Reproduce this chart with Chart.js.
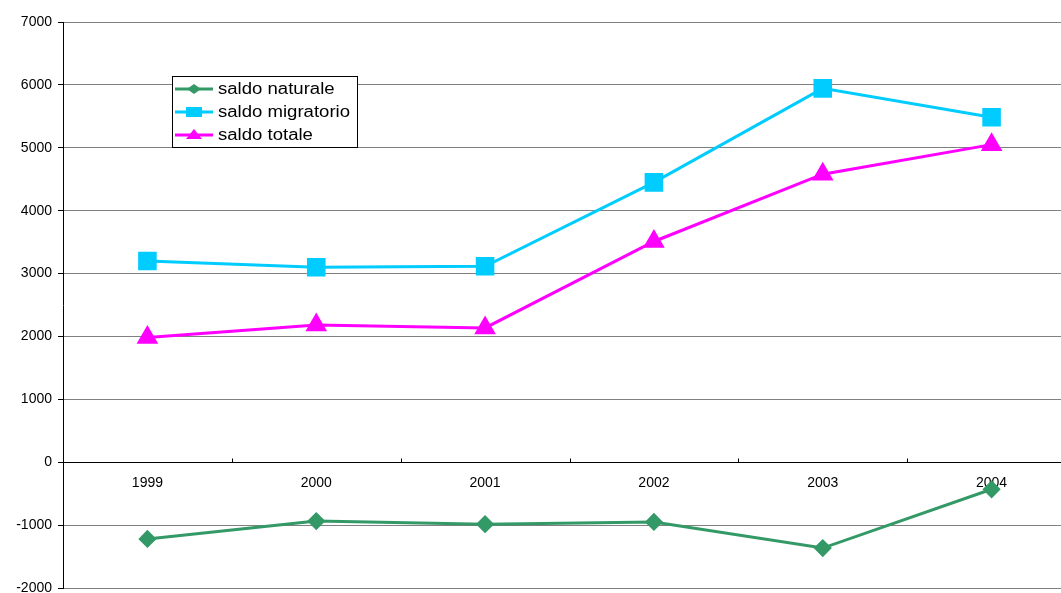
<!DOCTYPE html>
<html>
<head>
<meta charset="utf-8">
<script src="https://cdn.jsdelivr.net/npm/chart.js@4.4.1/dist/chart.umd.min.js"></script>
<style>
  html, body { margin: 0; padding: 0; background: #fff; overflow: hidden; }
</style>
</head>
<body>
<canvas id="grafico" width="1076" height="610"></canvas>
<script>
// dati
const anni = ['1999', '2000', '2001', '2002', '2003', '2004'];
const saldoNaturale = [-1220, -935, -985, -950, -1365, -430];
const saldoMigratorio = [3200, 3100, 3115, 4450, 5945, 5485];
const saldoTotale = [1985, 2180, 2135, 3510, 4580, 5050];
const tickY = [-2000, -1000, 0, 1000, 2000, 3000, 4000, 5000, 6000, 7000];

const font = 'Arial, "Liberation Sans", sans-serif';

// legenda disegnata dentro l'area del grafico, con bordo
const legendaInterna = {
    id: 'legendaInterna',
    afterDatasetsDraw(chart) {
        const ctx = chart.ctx;
        const x0 = 172, y0 = 76, w = 185, h = 71;
        ctx.save();
        ctx.fillStyle = '#fff';
        ctx.fillRect(x0, y0, w, h);
        ctx.strokeStyle = '#000';
        ctx.lineWidth = 1;
        ctx.strokeRect(x0 + 0.5, y0 + 0.5, w, h);
        chart.data.datasets.forEach((ds, i) => {
            const y = y0 + 13 + i * 23;
            ctx.strokeStyle = ds.borderColor;
            ctx.lineWidth = 3;
            ctx.beginPath();
            ctx.moveTo(x0 + 3, y);
            ctx.lineTo(x0 + 41, y);
            ctx.stroke();
            ctx.fillStyle = ds.borderColor;
            ctx.beginPath();
            const cx = x0 + 22;
            if (ds.pointStyle === 'rectRot') {
                ctx.moveTo(cx - 7, y); ctx.lineTo(cx, y - 5); ctx.lineTo(cx + 7, y); ctx.lineTo(cx, y + 5);
            } else if (ds.pointStyle === 'rect') {
                ctx.rect(cx - 8, y - 5, 16, 10);
            } else {
                ctx.moveTo(cx, y - 6); ctx.lineTo(cx + 8, y + 4); ctx.lineTo(cx - 8, y + 4);
            }
            ctx.closePath();
            ctx.fill();
            ctx.fillStyle = '#000';
            ctx.font = '16px ' + font;
            ctx.textBaseline = 'middle';
            ctx.save();
            ctx.translate(x0 + 46, y);
            ctx.scale(1.16, 1);
            ctx.fillText(ds.label, 0, 1);
            ctx.restore();
        });
        ctx.restore();
    }
};

// tacche dell'asse x verso l'alto, tra le categorie
const taccheX = {
    id: 'taccheX',
    afterDraw(chart) {
        const ctx = chart.ctx;
        const x = chart.scales.x, yScale = chart.scales.y;
        const y0 = Math.round(yScale.getPixelForValue(0)) + 0.5;
        const passo = x.getPixelForValue(1) - x.getPixelForValue(0);
        ctx.save();
        ctx.strokeStyle = '#000';
        ctx.lineWidth = 1;
        for (let i = 1; i < anni.length; i++) {
            const px = Math.round(x.getPixelForValue(i) - passo / 2) + 0.5;
            ctx.beginPath();
            ctx.moveTo(px, y0);
            ctx.lineTo(px, y0 - 4);
            ctx.stroke();
        }
        ctx.restore();
    }
};

new Chart(document.getElementById('grafico'), {
    type: 'line',
    data: {
        labels: anni,
        datasets: [{
            label: 'saldo naturale',
            data: saldoNaturale,
            borderColor: '#339966',
            backgroundColor: '#339966',
            borderWidth: 3,
            pointStyle: 'rectRot',
            pointRadius: 7,
            tension: 0
        }, {
            label: 'saldo migratorio',
            data: saldoMigratorio,
            borderColor: '#00CCFF',
            backgroundColor: '#00CCFF',
            borderWidth: 3,
            pointStyle: 'rect',
            pointRadius: 11,
            tension: 0
        }, {
            label: 'saldo totale',
            data: saldoTotale,
            borderColor: '#FF00FF',
            backgroundColor: '#FF00FF',
            borderWidth: 3,
            pointStyle: 'triangle',
            pointRadius: 9.5,
            tension: 0
        }]
    },
    options: {
        responsive: false,
        animation: false,
        layout: { autoPadding: false, padding: { top: 22, bottom: 22, right: 0, left: 0 } },
        plugins: {
            legend: { display: false },
            tooltip: { enabled: false }
        },
        scales: {
            x: {
                type: 'category',
                position: { y: 0 },
                offset: true,
                afterFit(scale) { scale.paddingLeft = 0; scale.paddingRight = 0; },
                grid: { drawOnChartArea: false, drawTicks: true, tickLength: 13, tickColor: 'rgba(0,0,0,0)' },
                border: { color: '#000', width: 1 },
                ticks: { color: '#000', font: { family: font, size: 14 }, padding: 0 }
            },
            y: {
                min: -2000,
                max: 7000,
                afterBuildTicks(scale) {
                    scale.ticks = tickY.map(v => ({ value: v }));
                },
                afterFit(scale) { scale.width = 63; },
                grid: { color: '#808080', tickColor: '#000', tickLength: 5 },
                border: { color: '#000', width: 1 },
                ticks: {
                    color: '#000',
                    font: { family: font, size: 14 },
                    padding: 6,
                    callback: v => String(v)
                }
            }
        }
    },
    plugins: [legendaInterna, taccheX]
});
</script>
</body>
</html>
